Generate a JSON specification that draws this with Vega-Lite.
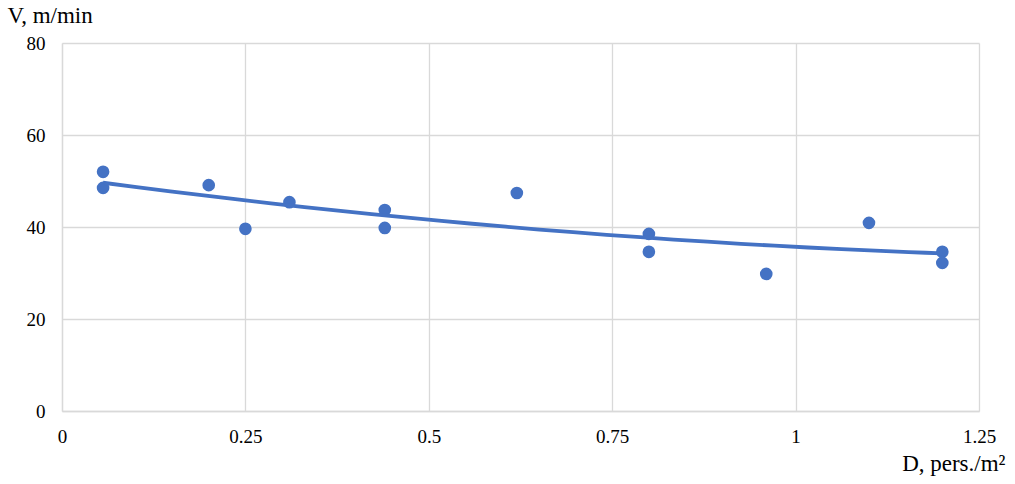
{
  "$schema": "https://vega.github.io/schema/vega-lite/v6.json",
  "width": 917,
  "height": 368,
  "autosize": {"type": "none"},
  "padding": {"left": 62, "top": 43, "right": 36, "bottom": 73},
  "background": "white",
  "config": {
    "view": {"stroke": null},
    "font": "Liberation Serif",
    "axis": {
      "labelFont": "Liberation Serif",
      "titleFont": "Liberation Serif",
      "labelColor": "#000000",
      "titleColor": "#000000",
      "labelFontSize": 19,
      "titleFontSize": 23,
      "titleFontWeight": "normal",
      "gridColor": "#d9d9d9",
      "gridWidth": 1.3,
      "domainColor": "#d9d9d9",
      "domainWidth": 1.3,
      "ticks": false,
      "labelFlush": false
    }
  },
  "data": {
    "values": [
      {"D": 0.056, "V": 52.0},
      {"D": 0.056, "V": 48.5},
      {"D": 0.2, "V": 49.1},
      {"D": 0.25, "V": 39.6},
      {"D": 0.31, "V": 45.4},
      {"D": 0.44, "V": 43.7},
      {"D": 0.44, "V": 39.8},
      {"D": 0.62, "V": 47.4},
      {"D": 0.8, "V": 38.5},
      {"D": 0.8, "V": 34.6},
      {"D": 0.96, "V": 29.8},
      {"D": 1.1, "V": 40.9},
      {"D": 1.2, "V": 34.6},
      {"D": 1.2, "V": 32.2}
    ]
  },
  "encoding": {
    "x": {
      "field": "D",
      "type": "quantitative",
      "scale": {"domain": [0, 1.25], "nice": false, "zero": true},
      "axis": {
        "values": [0, 0.25, 0.5, 0.75, 1, 1.25],
        "format": ".2~f",
        "labelPadding": 16,
        "title": "D, pers./m²",
        "titleAnchor": "end",
        "titleAlign": "right",
        "titleX": 943,
        "titleY": 59,
        "titleBaseline": "alphabetic"
      }
    },
    "y": {
      "field": "V",
      "type": "quantitative",
      "scale": {"domain": [0, 80], "nice": false},
      "axis": {
        "values": [0, 20, 40, 60, 80],
        "labelPadding": 17,
        "title": "V, m/min",
        "titleAngle": 0,
        "titleAlign": "left",
        "titleX": -55,
        "titleY": -21,
        "titleBaseline": "alphabetic"
      }
    }
  },
  "layer": [
    {
      "mark": {"type": "circle", "size": 160, "color": "#4472C4", "opacity": 1}
    },
    {
      "transform": [{"regression": "V", "on": "D", "method": "poly", "order": 2}],
      "mark": {"type": "line", "color": "#4472C4", "strokeWidth": 3.8}
    }
  ]
}
